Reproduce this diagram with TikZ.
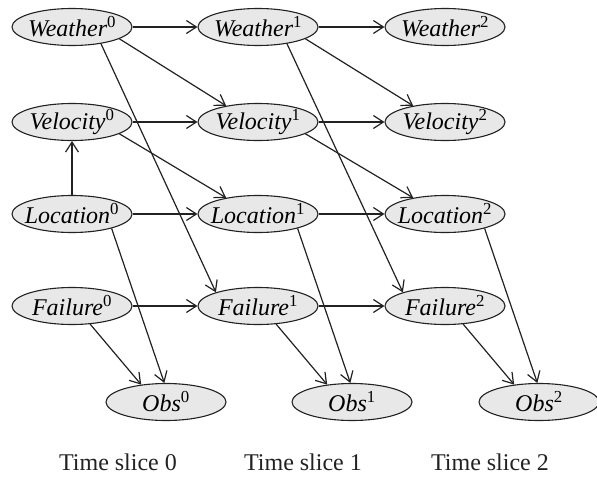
\documentclass[tikz,border=0pt]{standalone}
\usepackage{fontspec}
\setmainfont{Liberation Serif}
\usetikzlibrary{shapes.geometric,arrows.meta}
\newcommand\varlbl[2]{\makebox[0pt][c]{\itshape #1\textsuperscript{\upshape #2}}}
\definecolor{nodefill}{HTML}{E8E8E8}
\definecolor{ink}{HTML}{222222}
\tikzset{
  var/.style={ellipse, draw=ink, line width=1.1pt, fill=nodefill,
    minimum width=120pt, minimum height=37pt, inner sep=0pt,
    font=\fontsize{24}{28}\selectfont},
  edge/.style={draw=ink, line width=1.2pt,
    -{Straight Barb[length=10pt,width=13pt,line width=1.2pt]}},
  thickedge/.style={edge, line width=2pt},
  slicelbl/.style={font=\fontsize{24}{28}\selectfont, text=ink}
}
\begin{document}
\begin{tikzpicture}[x=1pt,y=1pt]
\useasboundingbox (0,0) rectangle (597,-479);
\foreach \i/\x in {0/72,1/258,2/445}{
  \node[var] (W\i) at (\x,-27)  {\varlbl{Weather}{\i}};
  \node[var] (V\i) at (\x,-122) {\varlbl{Velocity}{\i}};
  \node[var] (L\i) at (\x,-214) {\varlbl{Location}{\i}};
  \node[var] (F\i) at (\x,-306) {\varlbl{Failure}{\i}};
}
\node[var] (O0) at (166,-402) {\varlbl{Obs}{0}};
\node[var] (O1) at (352,-402) {\varlbl{Obs}{1}};
\node[var] (O2) at (539,-402) {\varlbl{Obs}{2}};
\node[slicelbl] (T0) at (118,-462) {Time slice 0};
\node[slicelbl] (T1) at (303,-462) {Time slice 1};
\node[slicelbl] (T2) at (490,-462) {Time slice 2};
% temporal edges
\foreach \a/\b in {0/1,1/2}{
  \draw[edge] (W\a) -- (W\b);
  \draw[edge] (V\a) -- (V\b);
  \draw[edge] (L\a) -- (L\b);
  \draw[edge] (F\a) -- (F\b);
  \draw[edge] (W\a.-14) -- (V\b.153);
  \draw[edge] (V\a.-14) -- (L\b.153);
  \draw[edge] (W\a.-30) -- (F\b.162);
}
% observation edges
\foreach \i in {0,1,2}{
  \draw[edge] (L\i.-20) -- (O\i.95);
  \draw[edge] (F\i.-45) -- (O\i.145);
}
\draw[thickedge] (L0) -- (V0);
\end{tikzpicture}
\end{document}
